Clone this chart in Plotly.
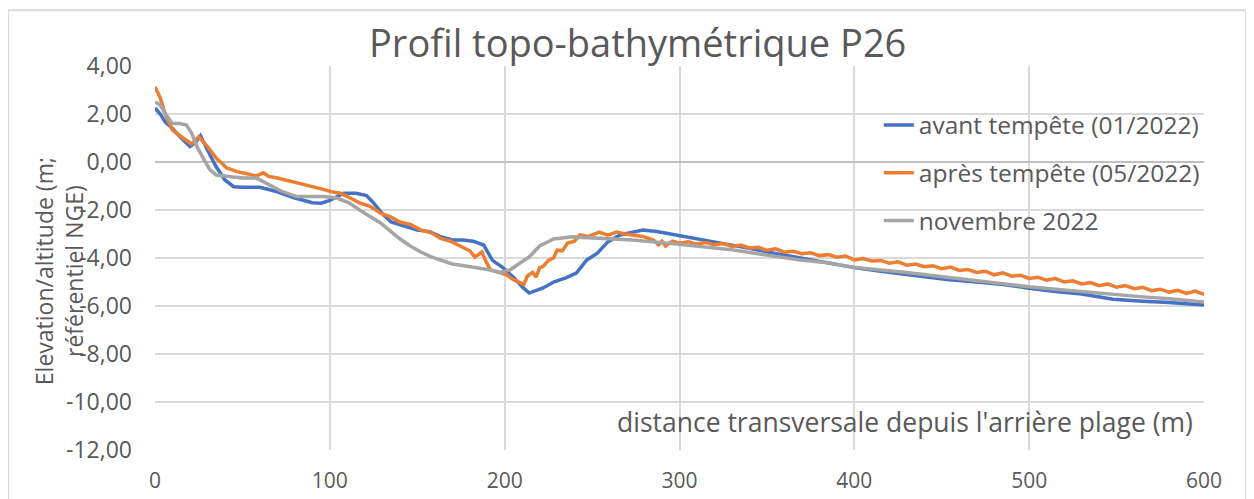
import plotly.graph_objects as go

# ---- data ----
blue_x = [0, 3, 6, 10, 15, 20, 23, 26, 30, 35, 40, 45, 50, 60, 70, 80, 90, 95, 100, 104, 108, 115, 121, 125,
          130, 135, 140, 150, 157, 163, 170, 176, 182, 188, 193, 199, 205, 210, 214, 218, 222, 228, 235, 241,
          247, 253, 259, 266, 273, 279, 287, 298, 312, 325, 340, 354, 369, 385, 400, 415, 430, 453, 470, 485,
          500, 515, 530, 548, 565, 580, 600]
blue_y = [2.25, 2.0, 1.65, 1.4, 1.0, 0.65, 0.8, 1.1, 0.5, -0.2, -0.75, -1.03, -1.05, -1.05, -1.24, -1.5, -1.7,
          -1.72, -1.6, -1.45, -1.3, -1.3, -1.4, -1.7, -2.15, -2.5, -2.6, -2.83, -2.9, -3.1, -3.25, -3.25, -3.3,
          -3.46, -4.1, -4.4, -4.8, -5.2, -5.46, -5.35, -5.25, -5.0, -4.83, -4.63, -4.08, -3.8, -3.33, -3.04,
          -2.92, -2.83, -2.9, -3.04, -3.25, -3.4, -3.6, -3.8, -4.0, -4.2, -4.4, -4.55, -4.7, -4.9, -5.0, -5.1,
          -5.26, -5.4, -5.5, -5.72, -5.8, -5.85, -5.96]

orange_x = [0, 3, 6, 10, 16, 21, 25, 30, 35, 41, 47, 58, 62, 65, 70, 79, 87, 94, 101, 106, 110, 117, 123, 129,
            135, 140, 146, 152, 158, 163, 169, 175, 180, 183, 187, 189, 192, 197, 201, 205, 209, 211, 213, 216,
            218, 220, 222, 225, 228, 230, 233, 236, 240, 243, 248, 254, 259, 264, 269, 274, 279, 285, 288, 290,
            292, 296, 300, 305, 310, 315, 320, 325, 330, 335, 340, 345, 350, 355, 360, 365, 370, 375, 380, 385,
            390, 395, 400, 405, 410, 415, 420, 425, 430, 435, 440, 445, 450, 455, 460, 465, 470, 475, 480, 485,
            490, 495, 500, 505, 510, 515, 520, 525, 530, 535, 540, 545, 550, 555, 560, 565, 570, 575, 580, 585,
            590, 595, 600]
orange_y = [3.14, 2.67, 1.96, 1.33, 1.0, 0.75, 1.05, 0.64, 0.17, -0.25, -0.4, -0.58, -0.45, -0.6, -0.67, -0.82,
            -0.96, -1.1, -1.24, -1.3, -1.44, -1.7, -1.85, -2.13, -2.3, -2.5, -2.6, -2.83, -2.95, -3.17, -3.3,
            -3.54, -3.7, -3.96, -3.75, -4.1, -4.5, -4.6, -4.7, -4.9, -5.04, -5.1, -4.75, -4.6, -4.8, -4.4, -4.35,
            -4.1, -4.0, -3.67, -3.7, -3.38, -3.3, -3.04, -3.1, -2.92, -3.05, -2.92, -3.0, -3.04, -3.1, -3.25,
            -3.45, -3.3, -3.5, -3.30, -3.38, -3.32, -3.42, -3.36, -3.45, -3.40, -3.52, -3.46, -3.58, -3.55,
            -3.68, -3.62, -3.76, -3.72, -3.82, -3.78, -3.90, -3.86, -3.97, -3.92, -4.08, -4.02, -4.12, -4.10,
            -4.22, -4.16, -4.30, -4.25, -4.36, -4.32, -4.45, -4.38, -4.52, -4.48, -4.60, -4.55, -4.70, -4.62,
            -4.76, -4.72, -4.85, -4.80, -4.92, -4.86, -5.0, -4.95, -5.08, -5.02, -5.15, -5.08, -5.22, -5.15,
            -5.28, -5.22, -5.36, -5.30, -5.42, -5.35, -5.48, -5.38, -5.52]

gray_x = [0, 3, 6, 10, 14, 18, 21, 24, 27.5, 31.5, 35, 43, 50, 58, 66, 73, 81, 89, 96, 104, 111, 117, 123, 129,
          135, 140, 146, 152, 158, 163, 170, 175, 180, 186, 192, 197, 203, 209, 214, 220, 228, 239, 255, 273,
          293, 312, 331, 350, 369, 385, 399, 415, 430, 453, 470, 485, 500, 515, 530, 548, 565, 580, 600]
gray_y = [2.5, 2.37, 2.0, 1.6, 1.6, 1.54, 1.2, 0.64, 0.17, -0.33, -0.54, -0.6, -0.67, -0.67, -0.96, -1.24,
          -1.44, -1.44, -1.44, -1.5, -1.7, -2.0, -2.25, -2.54, -2.9, -3.2, -3.5, -3.75, -3.95, -4.08, -4.25,
          -4.3, -4.35, -4.42, -4.5, -4.6, -4.5, -4.2, -3.96, -3.5, -3.21, -3.12, -3.17, -3.25, -3.38, -3.54,
          -3.67, -3.88, -4.08, -4.2, -4.38, -4.5, -4.6, -4.8, -4.95, -5.05, -5.2, -5.3, -5.4, -5.54, -5.62,
          -5.7, -5.83]

series_names = ["avant tempête (01/2022)", "après tempête (05/2022)", "novembre 2022"]
series_colors = ["#4472C4", "#ED7D31", "#A5A5A5"]

y_ticks = [4, 2, 0, -2, -4, -6, -8, -10, -12]
y_tick_labels = ["4,00", "2,00", "0,00", "-2,00", "-4,00", "-6,00", "-8,00", "-10,00", "-12,00"]
x_ticks = [0, 100, 200, 300, 400, 500, 600]
x_tick_labels = ["0", "100", "200", "300", "400", "500", "600"]

title_text = "Profil topo-bathymétrique P26"
y_title = "Elevation/altitude (m;<br>référentiel NGE)"
x_title = "distance transversale depuis l'arrière plage (m)"

FONT = "Open Sans"
TXT = "#595959"
GRID = "#D9D9D9"

fig = go.Figure()
for i, (xs, ys) in enumerate([(blue_x, blue_y), (orange_x, orange_y), (gray_x, gray_y)]):
    fig.add_trace(go.Scatter(
        x=xs, y=ys, mode="lines", name=series_names[i],
        line=dict(color=series_colors[i], width=3.5),
        legendgroup=str(i),
    ))

# page body has an 8px margin; plot area placed to match the reference window
fig.update_layout(
    width=1246, height=491,
    margin=dict(l=147, r=50, t=58, b=49),
    paper_bgcolor="white", plot_bgcolor="white",
    font=dict(family=FONT, color=TXT, size=22),
    showlegend=True,
    legend=dict(
        x=0.69, y=0.905, xanchor="left", yanchor="top",
        bgcolor="rgba(0,0,0,0)", font=dict(size=24.5, color=TXT, family=FONT),
        tracegroupgap=13, traceorder="grouped",
    ),
    xaxis=dict(
        range=[0, 600], tickvals=x_ticks, ticktext=x_tick_labels,
        showgrid=True, gridcolor=GRID, gridwidth=2,
        showline=False, zeroline=False, ticks="", automargin=False,
        ticklabelstandoff=16, tickfont=dict(size=21, color=TXT),
    ),
    yaxis=dict(
        range=[-12, 4], tickvals=y_ticks, ticktext=y_tick_labels,
        showgrid=True, gridcolor=GRID, gridwidth=2,
        zeroline=True, zerolinecolor="#BFBFBF", zerolinewidth=2,
        showline=False, ticks="", automargin=False,
        ticklabelstandoff=22, tickfont=dict(size=23, color=TXT),
    ),
    annotations=[
        dict(text=title_text, xref="paper", yref="paper", x=0.46, y=1.0, yshift=-4,
             xanchor="center", yanchor="bottom", showarrow=False,
             font=dict(size=38, color=TXT, family=FONT)),
        dict(text=y_title, xref="paper", yref="paper", x=-0.092, y=0.467,
             xanchor="center", yanchor="middle", textangle=-90, showarrow=False,
             font=dict(size=23, color=TXT, family=FONT)),
        dict(text=x_title, xref="paper", yref="paper", x=0.991, y=0.02,
             xanchor="right", yanchor="bottom", showarrow=False,
             font=dict(size=26.5, color=TXT, family=FONT)),
    ],
    shapes=[
        dict(type="rect", xref="paper", yref="paper",
             x0=-0.14, y0=-0.3, x1=1.04, y1=1.145,
             line=dict(color=GRID, width=2), fillcolor="rgba(0,0,0,0)", layer="below"),
    ],
)

fig.write_html("out.html")
